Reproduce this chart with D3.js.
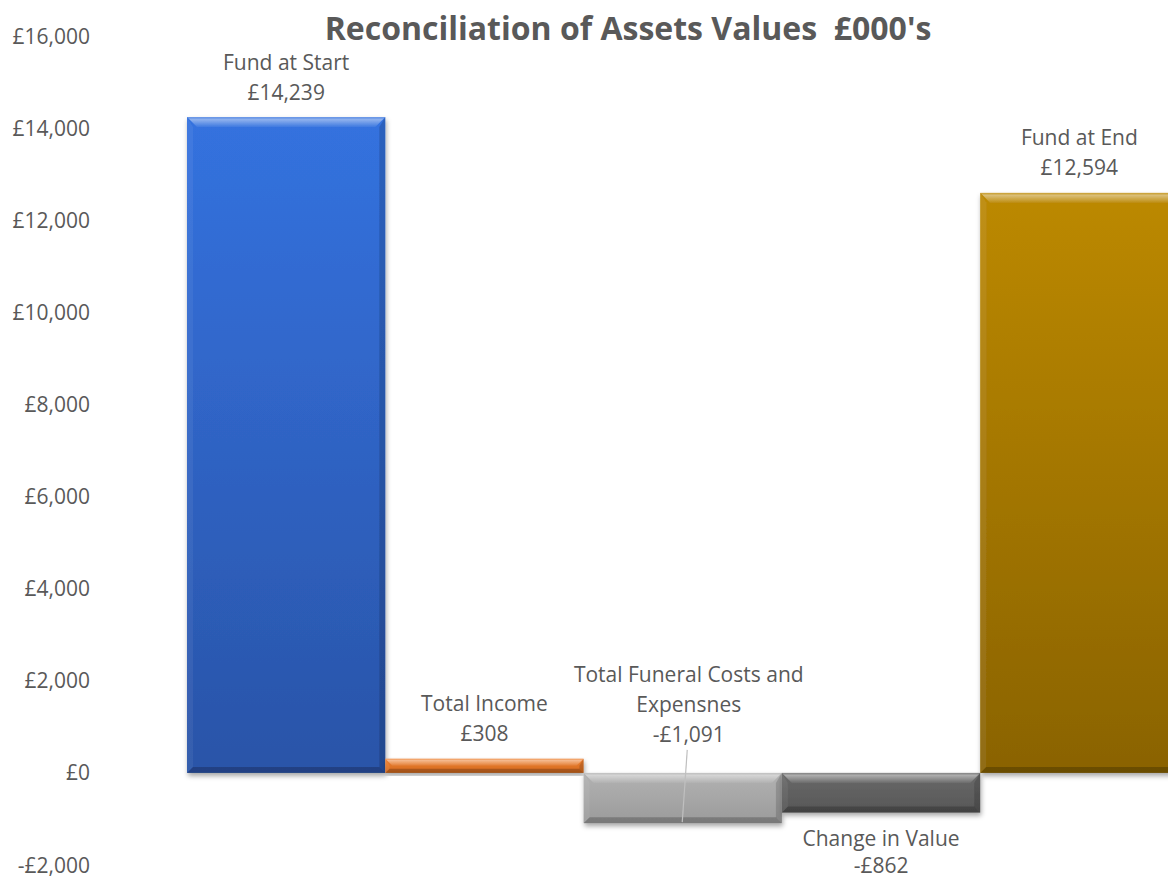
<!DOCTYPE html>
<html>
<head>
<meta charset="utf-8">
<script src="https://cdn.jsdelivr.net/npm/d3@7.9.0/dist/d3.min.js"></script>
<style>
  html, body { margin: 0; padding: 0; background: #fff; }
  svg { display: block; font-family: "Open Sans", sans-serif; }
</style>
</head>
<body>
<svg id="chart" width="1168" height="880"></svg>
<script>
const categories = ["Fund at Start", "Total Income", "Total Funeral Costs and Expensnes", "Change in Value", "Fund at End"];
const values = [14239, 308, -1091, -862, 12594];
const yTicks = [-2000, 0, 2000, 4000, 6000, 8000, 10000, 12000, 14000, 16000];
const title = "Reconciliation of Assets Values  £000's";

// top / bottom colour of each bar's gradient
const barColors = [
    ["#3472df", "#2a54a8"],
    ["#ef8232", "#d2691f"],
    ["#b2b2b2", "#9b9b9b"],
    ["#6a6a6a", "#565656"],
    ["#bc8906", "#8a6304"]
];

const svg = d3.select("#chart");
const textColor = "#595959";

const x = d3.scaleBand().domain(categories).range([187, 1178.5]).padding(0);
const y = d3.scaleLinear().domain([-2000, 16000]).range([865, 36]);

const fmt = d3.format(",");
const money = v => (v < 0 ? "-£" : "£") + fmt(Math.abs(v));

const defs = svg.append("defs");

const shadow = defs.append("filter").attr("id", "shadow")
    .attr("x", "-10%").attr("y", "-10%").attr("width", "120%").attr("height", "130%");
shadow.append("feDropShadow")
    .attr("dx", 1).attr("dy", 3).attr("stdDeviation", 2.5)
    .attr("flood-color", "#000").attr("flood-opacity", 0.35);

barColors.forEach((c, i) => {
    let g = defs.append("linearGradient").attr("id", "grad" + i)
        .attr("x1", 0).attr("y1", 0).attr("x2", 0).attr("y2", 1);
    g.append("stop").attr("offset", "0%").attr("stop-color", c[0]);
    g.append("stop").attr("offset", "100%").attr("stop-color", c[1]);
});

let topBevel = defs.append("linearGradient").attr("id", "topBevel")
    .attr("x1", 0).attr("y1", 0).attr("x2", 0).attr("y2", 1);
topBevel.append("stop").attr("offset", "0%").attr("stop-color", "#fff").attr("stop-opacity", 0.15);
topBevel.append("stop").attr("offset", "25%").attr("stop-color", "#fff").attr("stop-opacity", 0.45);
topBevel.append("stop").attr("offset", "100%").attr("stop-color", "#fff").attr("stop-opacity", 0.05);

// y axis labels
svg.append("g")
    .selectAll("text")
    .data(yTicks)
    .join("text")
    .attr("x", 90)
    .attr("y", d => y(d) + 7.5)
    .attr("text-anchor", "end")
    .attr("font-size", 21)
    .attr("fill", textColor)
    .text(d => money(d));

// bars with a bevel look
const bars = svg.append("g");

categories.forEach((cat, i) => {
    let v = values[i];
    let x0 = x(cat), x1 = x(cat) + x.bandwidth();
    let yT = y(Math.max(0, v)), yB = y(Math.min(0, v));
    let b = Math.min(10, (yB - yT) / 2);

    let g = bars.append("g").attr("filter", "url(#shadow)");
    g.append("rect")
        .attr("x", x0).attr("y", yT)
        .attr("width", x1 - x0).attr("height", yB - yT)
        .attr("fill", `url(#grad${i})`);

    const poly = (pts, fill, op) => g.append("polygon")
        .attr("points", pts.map(p => p.join(",")).join(" "))
        .attr("fill", fill).attr("fill-opacity", op);

    poly([[x0, yT], [x1, yT], [x1 - b, yT + b], [x0 + b, yT + b]], "url(#topBevel)", 1);
    poly([[x0, yT], [x0 + b * 0.6, yT + b], [x0 + b * 0.6, yB - b * 0.6], [x0, yB]], "#fff", 0.06);
    poly([[x1, yT], [x1, yB], [x1 - b * 0.6, yB - b * 0.6], [x1 - b * 0.6, yT + b]], "#000", 0.15);
    poly([[x0, yB], [x0 + b * 0.6, yB - b * 0.6], [x1 - b * 0.6, yB - b * 0.6], [x1, yB]], "#000", 0.22);
});

// data labels
const labels = svg.append("g")
    .attr("font-size", 21)
    .attr("fill", textColor)
    .attr("text-anchor", "middle");

function wrap(str, maxW) {
    let words = str.split(" "), lines = [], cur = "";
    let probe = labels.append("text");
    words.forEach(w => {
        let test = cur ? cur + " " + w : w;
        probe.text(test);
        if (cur && probe.node().getComputedTextLength() > maxW) {
            lines.push(cur);
            cur = w;
        } else {
            cur = test;
        }
    });
    lines.push(cur);
    probe.remove();
    return lines;
}

categories.forEach((cat, i) => {
    let v = values[i];
    let lines = wrap(cat, 240).concat([money(v)]);
    let cx = x(cat) + x.bandwidth() / 2;
    let lineH = 30;
    let firstCenter;

    if (i === 2) {
        // label dragged above the zero line, with a leader line to the bar
        cx += 6;
        firstCenter = y(0) - 38 - (lines.length - 1) * lineH;
        svg.append("line")
            .attr("x1", cx - 1.5).attr("y1", y(0) - 23)
            .attr("x2", cx - 6.5).attr("y2", y(v) - 1)
            .attr("stroke", "#bfbfbf").attr("stroke-width", 1.2);
    } else if (v >= 0) {
        firstCenter = y(v) - 25 - (lines.length - 1) * lineH;
    } else {
        // tighter below the bar so it stays inside the picture
        lineH = 27;
        firstCenter = y(v) + 26;
    }

    let t = labels.append("text");
    lines.forEach((ln, k) => {
        t.append("tspan")
            .attr("x", cx)
            .attr("y", firstCenter + k * lineH + 7.5)
            .text(ln);
    });
});

// title
svg.append("text")
    .attr("x", 628)
    .attr("y", 40)
    .attr("text-anchor", "middle")
    .attr("font-size", 32)
    .attr("font-weight", "bold")
    .attr("fill", textColor)
    .attr("xml:space", "preserve")
    .style("white-space", "pre")
    .text(title);
</script>
</body>
</html>
